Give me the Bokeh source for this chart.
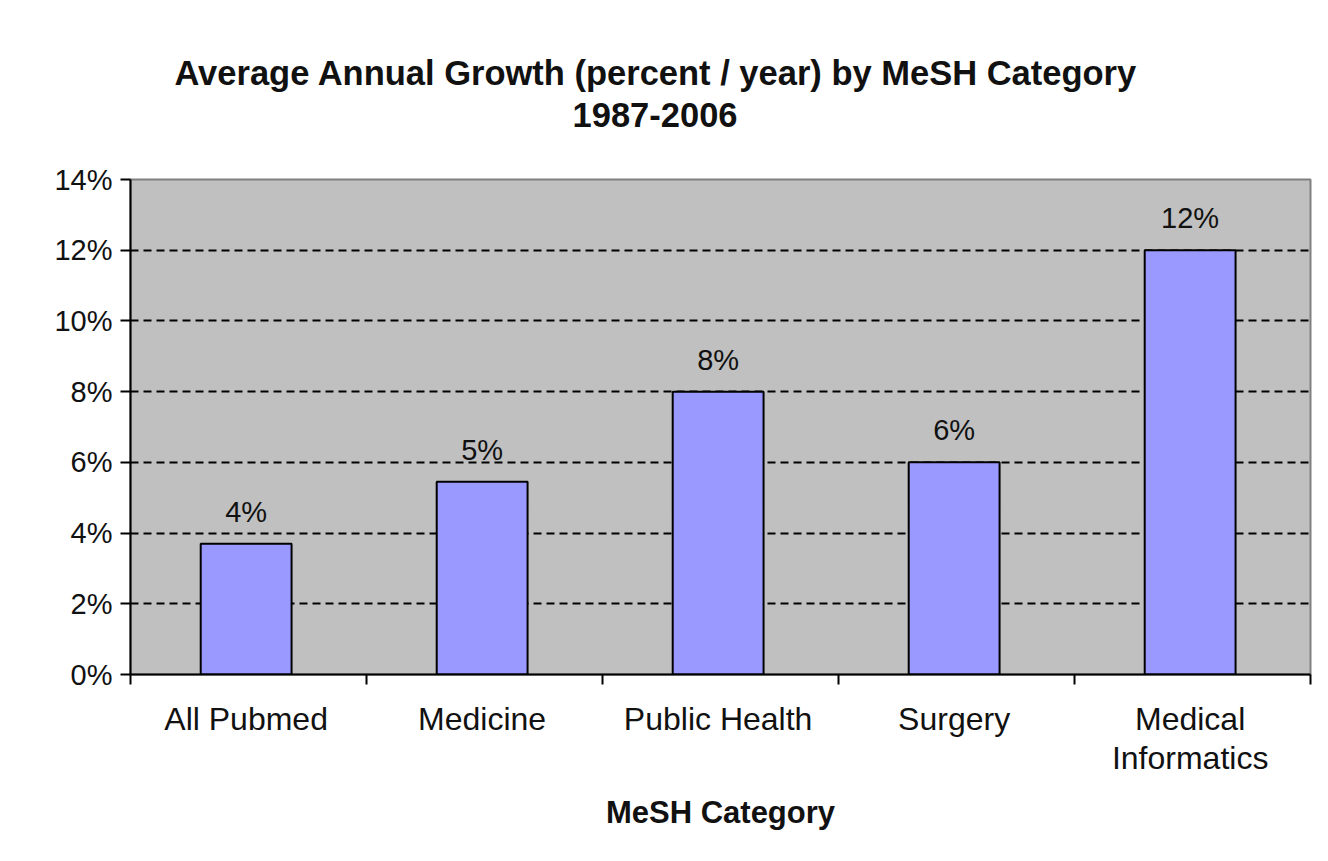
from bokeh.plotting import figure
from bokeh.models import (ColumnDataSource, Range1d, FixedTicker, LabelSet, Title,
                          PrintfTickFormatter)
from bokeh.core.properties import value
from bokeh.embed import file_html
from bokeh.resources import INLINE

# ---- data ----
categories = ["All Pubmed", "Medicine", "Public Health", "Surgery", "Medical\nInformatics"]
growth_pct = [3.7, 5.45, 8.0, 6.0, 12.0]
value_labels = ["4%", "5%", "8%", "6%", "12%"]
y_ticks = [0, 2, 4, 6, 8, 10, 12, 14]
title_line1 = "Average Annual Growth (percent / year) by MeSH Category"
title_line2 = "1987-2006"
x_title = "MeSH Category"

FONT = "Liberation Sans"

x_pos = [i + 0.49 for i in range(len(categories))]
src = ColumnDataSource(dict(x=x_pos, top=growth_pct, lab=value_labels))

p = figure(width=1310, height=845, output_backend="svg", toolbar_location=None,
           x_range=Range1d(0, len(categories)), y_range=Range1d(0, 14),
           min_border_left=120, min_border_right=10, min_border_top=167,
           min_border_bottom=183)
p.background_fill_color = "#C0C0C0"
p.border_fill_color = "white"
p.outline_line_color = "#808080"
p.outline_line_width = 2
p.styles = {"margin-left": "10px", "margin-top": "12px"}

p.vbar(x="x", top="top", width=0.385, source=src, fill_color="#9999FF",
       line_color="black", line_width=2)

# value labels
p.add_layout(LabelSet(x="x", y="top", text="lab", source=src, text_align="center",
                      text_baseline="bottom", y_offset=16, text_font=value(FONT),
                      text_font_size="29px", text_color="#111111"))

# grid
p.xgrid.visible = False
p.ygrid.ticker = FixedTicker(ticks=y_ticks[1:-1])
p.ygrid.grid_line_color = "black"
p.ygrid.grid_line_dash = "8 5"
p.ygrid.grid_line_width = 2

# y axis
p.yaxis.ticker = FixedTicker(ticks=y_ticks)
p.yaxis.formatter = PrintfTickFormatter(format="%d%%")
p.yaxis.major_label_text_font = FONT
p.yaxis.major_label_text_font_size = "29px"
p.yaxis.major_label_text_color = "#111111"
p.yaxis.major_tick_out = 10
p.yaxis.major_tick_in = 0
p.yaxis.minor_tick_out = 0
p.yaxis.minor_tick_in = 0
p.yaxis.major_label_standoff = 8
p.yaxis.axis_line_width = 2
p.yaxis.major_tick_line_width = 2

# x axis
p.xaxis.ticker = FixedTicker(ticks=x_pos, minor_ticks=list(range(len(categories) + 1)))
p.xaxis.major_label_overrides = {x: c for x, c in zip(x_pos, categories)}
p.xaxis.major_label_text_font = FONT
p.xaxis.major_label_text_font_size = "32px"
p.xaxis.major_label_text_line_height = 1.1
p.xaxis.major_label_text_color = "#111111"
p.xaxis.major_tick_out = 0
p.xaxis.major_tick_in = 0
p.xaxis.minor_tick_out = 10
p.xaxis.minor_tick_in = 0
p.xaxis.minor_tick_line_width = 2
p.xaxis.minor_tick_line_color = "black"
p.xaxis.major_label_standoff = 16
p.xaxis.axis_line_width = 2
p.xaxis.axis_label = x_title
p.xaxis.axis_label_text_font = FONT
p.xaxis.axis_label_text_font_style = "bold"
p.xaxis.axis_label_text_font_size = "31px"
p.xaxis.axis_label_text_color = "#111111"
p.xaxis.axis_label_standoff = 16

# blank spacer between plot and subtitle
spacer = Title(text=" ", text_font=FONT, text_font_size="10px", standoff=31)

t2 = Title(text=title_line2, align="right", offset=573, standoff=18,
           text_font=FONT, text_font_style="bold", text_font_size="34.5px",
           text_color="#111111")
t1 = Title(text=title_line1, align="right", offset=173, standoff=0,
           text_font=FONT, text_font_style="bold", text_font_size="34.5px",
           text_color="#111111")
p.above = [spacer, t2, t1]

open("out.html", "w").write(file_html(p, INLINE))
